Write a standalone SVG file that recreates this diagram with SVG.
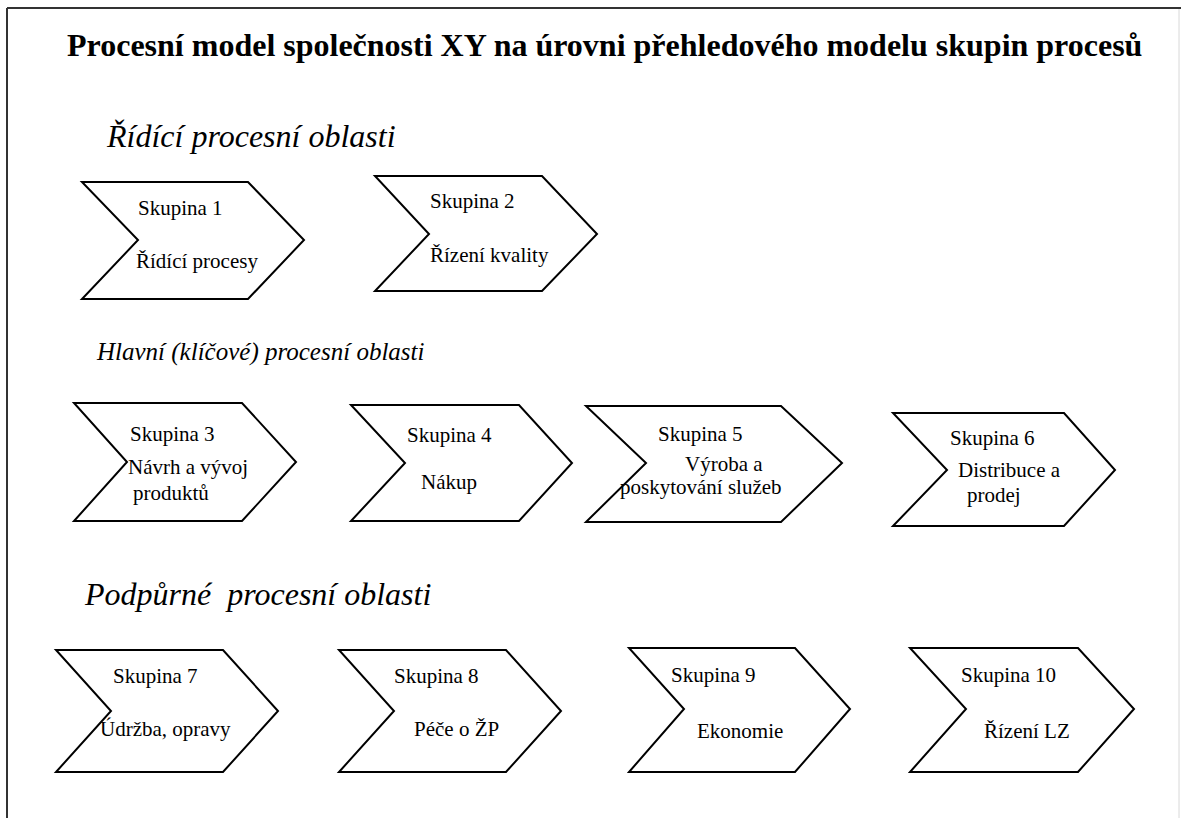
<svg xmlns="http://www.w3.org/2000/svg" width="1181" height="818" viewBox="0 0 1181 818">
  <style>
    .title { font-family: "Liberation Serif", "Times New Roman", serif; font-size: 32px; font-weight: bold; fill: #000; }
    .area { font-family: "Liberation Serif", "Times New Roman", serif; font-size: 32px; font-style: italic; fill: #000; }
    .area-main { font-size: 25px; }
    .lbl { font-family: "Liberation Serif", "Times New Roman", serif; font-size: 21px; fill: #000; }
    .chev { fill: #fff; stroke: #000; stroke-width: 2; stroke-linejoin: miter; }
  </style>

  <!-- page background and frame -->
  <rect x="0" y="0" width="1181" height="818" fill="#fff"/>
  <line x1="7" y1="8" x2="1181" y2="8" stroke="#333" stroke-width="2"/>
  <line x1="7" y1="8" x2="7" y2="818" stroke="#333" stroke-width="2"/>
  <line x1="1179" y1="9" x2="1179" y2="818" stroke="#d8d8d8" stroke-width="1"/>

  <text class="title" x="67" y="56">Procesní model společnosti XY na úrovni přehledového modelu skupin procesů</text>

  <!-- area headings -->
  <text class="area" x="107" y="147">Řídící procesní oblasti</text>
  <text class="area area-main" x="97" y="360">Hlavní (klíčové) procesní oblasti</text>
  <text class="area" x="85" y="605" xml:space="preserve">Podpůrné  procesní oblasti</text>

  <g id="connectors"></g>

  <!-- control processes -->
  <g id="skupina1">
    <polygon class="chev" points="82,182 248,182 304,240 248,299 82,299 138,240"/>
    <text class="lbl" x="138" y="215">Skupina 1</text>
    <text class="lbl" x="136" y="268">Řídící procesy</text>
  </g>
  <g id="skupina2">
    <polygon class="chev" points="375,176 542,176 597,234 542,291 375,291 429,234"/>
    <text class="lbl" x="430" y="208">Skupina 2</text>
    <text class="lbl" x="430" y="262">Řízení kvality</text>
  </g>

  <!-- main processes -->
  <g id="skupina3">
    <polygon class="chev" points="74,403 242,403 296,462 242,521 74,521 127,462"/>
    <text class="lbl" x="130" y="441">Skupina 3</text>
    <text class="lbl" x="128" y="474">Návrh a vývoj</text>
    <text class="lbl" x="133" y="500">produktů</text>
  </g>
  <g id="skupina4">
    <polygon class="chev" points="351,405 519,405 572,463 519,521 351,521 405,463"/>
    <text class="lbl" x="407" y="442">Skupina 4</text>
    <text class="lbl" x="421" y="489">Nákup</text>
  </g>
  <g id="skupina5">
    <polygon class="chev" points="586,406 781,406 842,463 781,522 586,522 646,463"/>
    <text class="lbl" x="658" y="441">Skupina 5</text>
    <text class="lbl" x="685" y="471">Výroba a</text>
    <text class="lbl" x="620" y="494">poskytování služeb</text>
  </g>
  <g id="skupina6">
    <polygon class="chev" points="893,413 1064,413 1115,470 1064,526 893,526 947,470"/>
    <text class="lbl" x="950" y="445">Skupina 6</text>
    <text class="lbl" x="958" y="477">Distribuce a</text>
    <text class="lbl" x="967" y="502">prodej</text>
  </g>

  <!-- support processes -->
  <g id="skupina7">
    <polygon class="chev" points="56,650 223,650 278,711 223,772 56,772 111,711"/>
    <text class="lbl" x="113" y="683">Skupina 7</text>
    <text class="lbl" x="100" y="736">Údržba, opravy</text>
  </g>
  <g id="skupina8">
    <polygon class="chev" points="339,650 506,650 561,711 506,772 339,772 394,711"/>
    <text class="lbl" x="394" y="683">Skupina 8</text>
    <text class="lbl" x="414" y="736">Péče o ŽP</text>
  </g>
  <g id="skupina9">
    <polygon class="chev" points="629,648 795,648 850,709 795,772 629,772 684,709"/>
    <text class="lbl" x="671" y="682">Skupina 9</text>
    <text class="lbl" x="697" y="738">Ekonomie</text>
  </g>
  <g id="skupina10">
    <polygon class="chev" points="910,648 1078,648 1134,709 1078,772 910,772 966,709"/>
    <text class="lbl" x="961" y="682">Skupina 10</text>
    <text class="lbl" x="984" y="738">Řízení LZ</text>
  </g>
</svg>
